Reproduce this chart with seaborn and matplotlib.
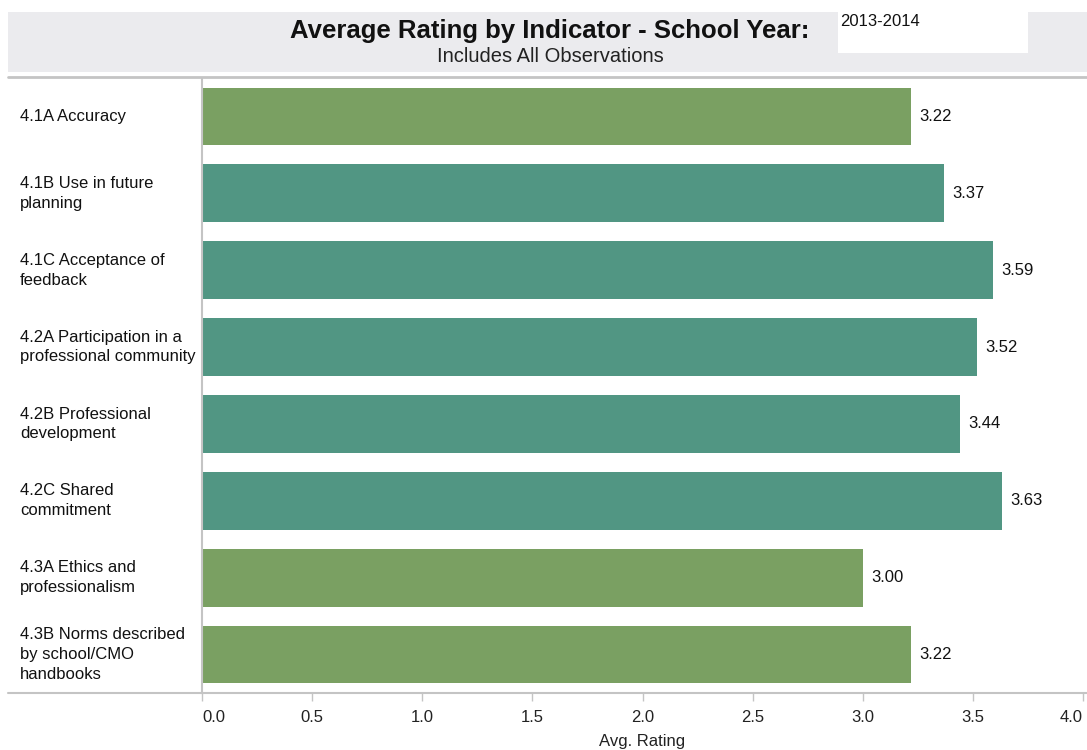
import matplotlib
matplotlib.use("Agg")
import matplotlib.pyplot as plt
import matplotlib.transforms as mtransforms
import seaborn as sns
import pandas as pd
from matplotlib.patches import Rectangle
from matplotlib.lines import Line2D

# Indicator labels (wrapped as shown on the axis) and average ratings
indicators = [
    "4.1A Accuracy",
    "4.1B Use in future\nplanning",
    "4.1C Acceptance of\nfeedback",
    "4.2A Participation in a\nprofessional community",
    "4.2B Professional\ndevelopment",
    "4.2C Shared\ncommitment",
    "4.3A Ethics and\nprofessionalism",
    "4.3B Norms described\nby school/CMO\nhandbooks",
]
avg_rating = [3.22, 3.37, 3.59, 3.52, 3.44, 3.63, 3.00, 3.22]
bar_colors = ["#7AA062", "#519683", "#519683", "#519683",
              "#519683", "#519683", "#7AA062", "#7AA062"]
x_ticks = [0.0, 0.5, 1.0, 1.5, 2.0, 2.5, 3.0, 3.5, 4.0]
title = "Average Rating by Indicator - School Year:"
subtitle = "Includes All Observations"
school_year = "2013-2014"

sns.set_theme(style="white")
plt.rcParams["font.family"] = ["Liberation Sans", "DejaVu Sans"]

W, H = 1087, 750
fig = plt.figure(figsize=(W / 100, H / 100), dpi=100)
fig.patch.set_facecolor("white")


def fx(px):
    return px / W


def fy(py):
    return 1 - py / H


# Header band with the school-year box
fig.patches.append(Rectangle((fx(8), fy(72)), fx(1087 - 8), (72 - 12) / H,
                             transform=fig.transFigure, facecolor="#EBEBEE",
                             edgecolor="none", zorder=0))
fig.patches.append(Rectangle((fx(838), fy(53)), fx(1028 - 838), (53 - 12) / H,
                             transform=fig.transFigure, facecolor="white",
                             edgecolor="none", zorder=1))
fig.lines.append(Line2D([fx(8), 1], [fy(77), fy(77)], transform=fig.transFigure,
                        color="#C4C4C4", lw=2))
fig.text(fx(550), fy(31), title, ha="center", va="center",
         fontsize=18.5, fontweight="bold", color="#111111")
fig.text(fx(550), fy(57), subtitle, ha="center", va="center",
         fontsize=14.5, color="#222222")
fig.text(fx(840), fy(14), school_year, ha="left", va="top",
         fontsize=12, color="#111111")

# Main bar chart
ax = fig.add_axes([fx(202), fy(693), fx(1083 - 202), (693 - 78) / H])
df = pd.DataFrame({"Indicator": indicators, "Avg. Rating": avg_rating})
sns.barplot(data=df, x="Avg. Rating", y="Indicator", hue="Indicator",
            palette=bar_colors, legend=False, orient="h", width=0.75,
            saturation=1, ax=ax, edgecolor="none")

ax.set_xlim(0, 4.0)
ax.set_ylim(len(indicators) - 0.5, -0.5)

for i, v in enumerate(avg_rating):
    ax.annotate(f"{v:.2f}", xy=(v, i), xytext=(6, 0), textcoords="offset points",
                ha="left", va="center", fontsize=12, color="#111111")

for s in ["top", "right", "bottom"]:
    ax.spines[s].set_visible(False)
ax.spines["left"].set_color("#C4C4C4")
ax.spines["left"].set_linewidth(1.5)

# Horizontal axis line spans the full width
fig.lines.append(Line2D([fx(8), 1], [fy(693), fy(693)], transform=fig.transFigure,
                        color="#C4C4C4", lw=1.5))

ax.set_xticks(x_ticks)
ax.set_xticklabels([f"{t:.1f}" for t in x_ticks], fontsize=12, color="#222222")
ax.tick_params(axis="x", length=6, color="#C4C4C4", width=1, pad=6, bottom=True)
labels = ax.get_xticklabels()
labels[0].set_ha("left")
labels[-1].set_ha("right")
ax.set_xlabel("Avg. Rating", fontsize=12, color="#222222", labelpad=7)

ax.set_ylabel("")
ax.set_yticks(range(len(indicators)))
ax.set_yticklabels([])
ax.tick_params(axis="y", length=0)
label_tf = mtransforms.blended_transform_factory(fig.transFigure, ax.transData)
for i, lab in enumerate(indicators):
    ax.text(fx(20), i, lab, transform=label_tf, ha="left", va="center",
            fontsize=12, color="#111111", linespacing=1.4, clip_on=False)

fig.savefig("out.png", dpi=100, facecolor="white")
